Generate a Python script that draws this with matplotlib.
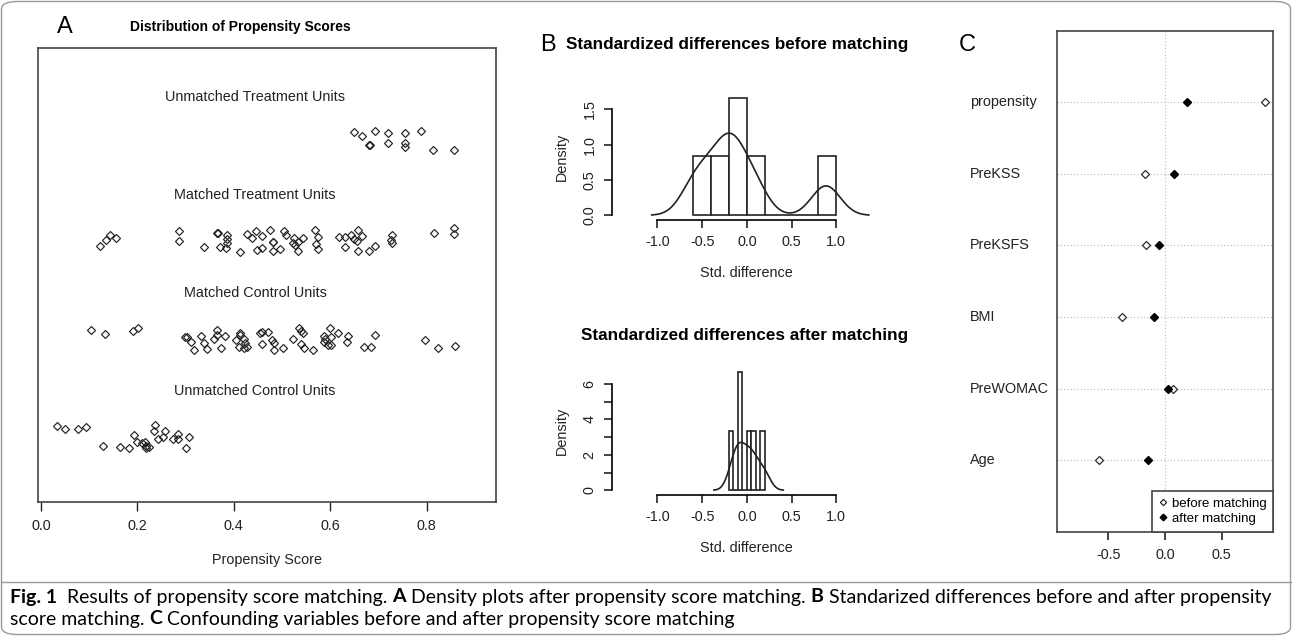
import numpy as np
import matplotlib
matplotlib.use("Agg")
import matplotlib.pyplot as plt
from matplotlib.patches import FancyBboxPatch
from matplotlib.lines import Line2D

plt.rcParams['font.family'] = ['Liberation Sans', 'DejaVu Sans']

W, H = 1292, 636

# ---- Panel A: propensity scores (x) with vertical jitter (y) ----
ut_ps = [0.650, 0.667, 0.693, 0.719, 0.756, 0.788, 0.681, 0.683, 0.719, 0.756, 0.756, 0.814, 0.856]
ut_y = [2.146, 2.102, 2.156, 2.136, 2.136, 2.156, 2.010, 2.014, 2.034, 2.028, 1.993, 1.959, 1.959]

mt_ps = [0.123, 0.136, 0.143, 0.155, 0.286, 0.286, 0.338, 0.366, 0.367, 0.371, 0.387, 0.387,
         0.387, 0.384, 0.414, 0.428, 0.437, 0.447, 0.458, 0.449, 0.459, 0.476, 0.481, 0.482,
         0.481, 0.496, 0.505, 0.509, 0.522, 0.528, 0.526, 0.533, 0.533, 0.543, 0.569, 0.574,
         0.571, 0.574, 0.619, 0.631, 0.631, 0.643, 0.650, 0.655, 0.657, 0.667, 0.657, 0.681,
         0.694, 0.728, 0.726, 0.729, 0.816, 0.857, 0.857]
mt_y = [0.983, 1.041, 1.092, 1.058, 1.133, 1.031, 0.972, 1.115, 1.110, 0.966, 1.092, 1.051,
        1.007, 0.956, 0.921, 1.105, 1.064, 1.133, 1.085, 0.939, 0.956, 1.143, 1.024, 1.020,
        0.929, 0.946, 1.133, 1.092, 1.007, 0.990, 1.064, 1.024, 0.929, 1.064, 1.143, 1.075,
        0.997, 0.946, 1.075, 1.075, 0.966, 1.092, 1.051, 1.031, 1.143, 1.085, 0.929, 0.929,
        0.983, 1.092, 1.041, 1.007, 1.109, 1.160, 1.099]

mc_ps = [0.104, 0.133, 0.191, 0.202, 0.299, 0.304, 0.311, 0.317, 0.333, 0.338, 0.345, 0.359,
         0.366, 0.366, 0.373, 0.381, 0.404, 0.412, 0.414, 0.421, 0.424, 0.411, 0.421, 0.428,
         0.455, 0.459, 0.471, 0.458, 0.480, 0.484, 0.484, 0.502, 0.522, 0.536, 0.540, 0.543,
         0.540, 0.545, 0.564, 0.588, 0.590, 0.588, 0.595, 0.602, 0.600, 0.602, 0.616, 0.634,
         0.636, 0.671, 0.685, 0.693, 0.796, 0.823, 0.859]
mc_y = [0.122, 0.082, 0.112, 0.140, 0.054, 0.054, -0.003, -0.082, 0.064, -0.013, -0.074, 0.028,
        0.122, 0.071, -0.064, 0.061, 0.020, 0.095, 0.071, 0.028, -0.013, -0.054, -0.064, -0.048,
        0.095, 0.105, 0.105, -0.020, 0.020, -0.013, -0.082, -0.064, 0.031, 0.140, 0.115, 0.095,
        -0.020, -0.064, -0.082, 0.061, 0.028, 0.003, -0.031, -0.031, 0.140, 0.048, 0.095, 0.003,
        0.061, -0.048, -0.048, 0.071, 0.020, -0.064, -0.041]

uc_ps = [0.034, 0.050, 0.077, 0.093, 0.128, 0.165, 0.182, 0.193, 0.199, 0.210, 0.215, 0.217,
         0.224, 0.217, 0.236, 0.234, 0.242, 0.253, 0.258, 0.273, 0.284, 0.284, 0.307, 0.302]
uc_y = [-0.857, -0.891, -0.891, -0.864, -1.058, -1.074, -1.085, -0.946, -1.020, -1.034, -1.017, -1.061,
        -1.068, -1.085, -0.847, -0.908, -0.993, -0.972, -0.908, -0.987, -0.939, -0.987, -0.972, -1.085]

group_labels = ["Unmatched Treatment Units", "Matched Treatment Units",
                "Matched Control Units", "Unmatched Control Units"]
group_label_y = [2.5, 1.5, 0.5, -0.5]

# ---- Panels B and C: standardized differences ----
variables = ["Age", "PreWOMAC", "BMI", "PreKSFS", "PreKSS", "propensity"]
before = [-0.584, 0.073, -0.378, -0.168, -0.177, 0.885]
after = [-0.153, 0.029, -0.097, -0.053, 0.080, 0.192]


def px_axes(l, t, r, b):
    return fig.add_axes([l / W, 1 - b / H, (r - l) / W, (b - t) / H])


def kde_nrd0(vals):
    v = np.asarray(vals)
    n = len(v)
    q75, q25 = np.percentile(v, [75, 25])
    bw = 0.9 * min(v.std(ddof=1), (q75 - q25) / 1.34) * n ** -0.2
    xs = np.linspace(v.min() - 3 * bw, v.max() + 3 * bw, 512)
    ys = np.exp(-0.5 * ((xs[:, None] - v[None, :]) / bw) ** 2).sum(1) / (n * bw * np.sqrt(2 * np.pi))
    return xs, ys


fig = plt.figure(figsize=(W / 100, H / 100), dpi=100)

# ================= Panel A =================
axA = px_axes(38, 48, 496, 502)
mk = dict(marker='D', ms=4.2, mfc='none', mec='#222222', mew=0.85, ls='none')
axA.plot(ut_ps, ut_y, **mk)
axA.plot(mt_ps, mt_y, **mk)
axA.plot(mc_ps, mc_y, **mk)
axA.plot(uc_ps, uc_y, **mk)
for lab, yy in zip(group_labels, group_label_y):
    axA.text(0.444, yy, lab, ha='center', va='center', fontsize=10.4, color='#222222')
axA.set_xlim(-0.006, 0.944)
axA.set_ylim(-1.633, 3.0)
axA.set_yticks([])
axA.set_xticks([0.0, 0.2, 0.4, 0.6, 0.8])
axA.set_xticklabels(["0.0", "0.2", "0.4", "0.6", "0.8"])
axA.tick_params(axis='x', direction='out', length=6.5, width=1, labelsize=10.4, pad=6, colors='#222222')
for s in axA.spines.values():
    s.set_linewidth(1.2)
    s.set_color('#444444')
axA.set_xlabel("Propensity Score", fontsize=10.4, labelpad=14, color='#222222')
fig.text(240 / W, 1 - 27 / H, "Distribution of Propensity Scores", ha='center', va='center',
         fontsize=10, fontweight='bold')
fig.text(65 / W, 1 - 27 / H, "A", ha='center', va='center', fontsize=17)

# ================= Panel B =================
for (t, b, vals, bins, ylim, yt, ytl, ttl, tx, ty) in [
        (92.9, 220, before, np.arange(-0.6, 1.0001, 0.2), (-0.0667, 1.733),
         [0, 0.5, 1.0, 1.5], ["0.0", "0.5", "1.0", "1.5"],
         "Standardized differences before matching", 737, 45),
        (367.5, 495, after, np.arange(-0.2, 0.2001, 0.05), (-0.267, 6.933),
         [0, 1, 2, 3, 4, 5, 6], ["0", "", "2", "", "4", "", "6"],
         "Standardized differences after matching", 745, 335)]:
    ax = px_axes(611.7, t, 882, b)
    ax.hist(vals, bins=bins, density=True, facecolor='white', edgecolor='#222222', linewidth=1.2)
    xs, ys = kde_nrd0(vals)
    ax.plot(xs, ys, color='#222222', lw=1.2)
    ax.set_xlim(-1.512, 1.512)
    ax.set_ylim(*ylim)
    ax.spines['top'].set_visible(False)
    ax.spines['right'].set_visible(False)
    ax.spines['left'].set_bounds(yt[0], yt[-1])
    ax.spines['bottom'].set_bounds(-1, 1)
    ax.spines['left'].set_linewidth(1.2)
    ax.spines['bottom'].set_linewidth(1.2)
    ax.set_xticks([-1.0, -0.5, 0.0, 0.5, 1.0])
    ax.set_xticklabels(["-1.0", "-0.5", "0.0", "0.5", "1.0"])
    ax.set_yticks(yt)
    ax.set_yticklabels(ytl, rotation=90, va='center')
    ax.tick_params(direction='out', length=6, width=1.2, labelsize=10.4, pad=5, colors='#222222')
    ax.set_xlabel("Std. difference", fontsize=10.4, labelpad=12, color='#222222')
    ax.set_ylabel("Density", fontsize=10.4, labelpad=10, color='#222222')
    fig.text(tx / W, 1 - ty / H, ttl, ha='center', va='center', fontsize=12.3, fontweight='bold')
fig.text(548 / W, 1 - 45 / H, "B", ha='center', va='center', fontsize=17)

# ================= Panel C =================
axC = px_axes(1056.7, 30.7, 1273.3, 531.7)
rows = np.arange(1, len(variables) + 1)
for r in rows:
    axC.axhline(r, color='#bbbbbb', lw=0.8, ls=(0, (1, 2)), zorder=0)
axC.axvline(0, color='#bbbbbb', lw=0.8, ls=(0, (1, 2)), zorder=0)
axC.plot(before, rows, marker='D', ms=4, mfc='white', mec='#222222', mew=0.85, ls='none',
         label='before matching')
axC.plot(after, rows, marker='D', ms=4.2, mfc='black', mec='black', ls='none',
         label='after matching')
for r, name in zip(rows, variables):
    axC.text(-0.40, r, name, transform=axC.get_yaxis_transform(), ha='left', va='center',
             fontsize=10.4, color='#222222')
axC.set_xlim(-0.958, 0.958)
axC.set_ylim(0, 7)
axC.set_yticks([])
axC.set_xticks([-0.5, 0.0, 0.5])
axC.set_xticklabels(["-0.5", "0.0", "0.5"])
axC.tick_params(axis='x', direction='out', length=6, width=1.2, labelsize=10.4, pad=6, colors='#222222')
for s in axC.spines.values():
    s.set_linewidth(1.2)
    s.set_color('#444444')
leg = axC.legend(loc='lower right', borderaxespad=0, fancybox=False, edgecolor='#444444',
                 framealpha=1, fontsize=9.5, handlelength=0.6, handletextpad=0.4,
                 labelspacing=0.25, borderpad=0.5, markerscale=0.8)
leg.get_frame().set_linewidth(1.2)
fig.text(967 / W, 1 - 45 / H, "C", ha='center', va='center', fontsize=17)

# ================= Frame and caption =================
frame = FancyBboxPatch((1.5 / W, 1.5 / H), 1 - 3 / W, 1 - 3 / H, boxstyle="round,pad=0,rounding_size=0.012",
                       transform=fig.transFigure, fill=False, edgecolor='#9a9a9a', lw=1.0)
fig.patches.append(frame)
fig.add_artist(Line2D([1.5 / W, 1 - 1.5 / W], [1 - 582 / H, 1 - 582 / H], color='#9a9a9a', lw=1.0,
                      transform=fig.transFigure))

renderer = fig.canvas.get_renderer()


def caption_line(parts, x0, y0):
    x = x0
    for txt, bold in parts:
        t = fig.text(x / W, 1 - y0 / H, txt, ha='left', va='center', fontsize=14,
                     fontweight='bold' if bold else 'normal', family=['Lato', 'DejaVu Sans'])
        bb = t.get_window_extent(renderer)
        x += bb.width


caption_line([("Fig. 1", True), ("  Results of propensity score matching. ", False), ("A", True),
              (" Density plots after propensity score matching. ", False), ("B", True),
              (" Standarized differences before and after propensity", False)], 10, 597)
caption_line([("score matching. ", False), ("C", True),
              (" Confounding variables before and after propensity score matching", False)], 10, 619)

fig.savefig("out.png", dpi=100)
